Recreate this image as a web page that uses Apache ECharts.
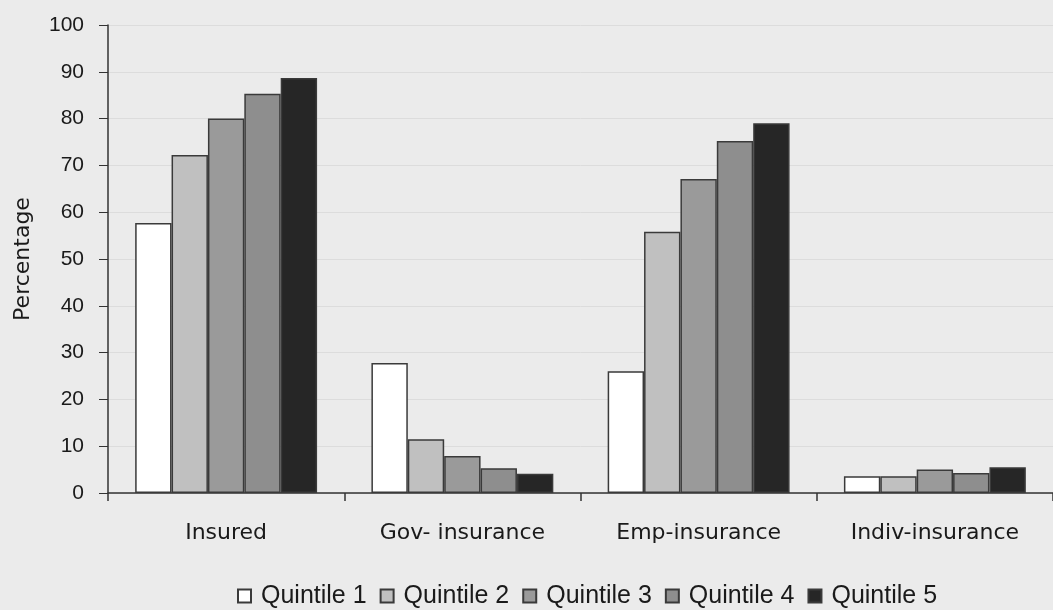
<!DOCTYPE html>
<html><head><meta charset="utf-8">
<script src="https://cdn.jsdelivr.net/npm/echarts@6/dist/echarts.min.js"></script>
<style>html,body{margin:0;padding:0;background:#ebebeb}#c{width:1053px;height:610px}</style>
</head><body><div id="c"></div>
<script>
var categories = ['Insured', 'Gov- insurance', 'Emp-insurance', 'Indiv-insurance'];
var seriesNames = ['Quintile 1', 'Quintile 2', 'Quintile 3', 'Quintile 4', 'Quintile 5'];
var q1 = [57.7, 27.8, 26.0, 3.6];
var q2 = [72.2, 11.5, 55.8, 3.6];
var q3 = [80.0, 7.9, 67.1, 5.0];
var q4 = [85.3, 5.3, 75.2, 4.3];
var q5 = [88.7, 4.1, 79.0, 5.5];
var yTicks = [0, 10, 20, 30, 40, 50, 60, 70, 80, 90, 100];
var colors = ['#ffffff', '#c0c0c0', '#9a9a9a', '#8e8e8e', '#262626'];
var values = [q1, q2, q3, q4, q5];

var chart = echarts.init(document.getElementById('c'), null, {renderer: 'canvas'});
var font = 'DejaVu Sans, Liberation Sans, sans-serif';
var numFont = 'Liberation Sans, Arial, sans-serif';
chart.setOption({
  backgroundColor: '#ebebeb',
  animation: false,
  textStyle: {fontFamily: font},
  grid: {left: 108, top: 25, right: 0, bottom: 117, containLabel: false},
  legend: {
    top: 578, left: 232,
    itemWidth: 13, itemHeight: 13, itemGap: 13,
    textStyle: {fontSize: 25, lineHeight: 26, color: '#1a1a1a', fontFamily: numFont, padding: [0, 0, 0, 5]},
    data: seriesNames.map(function(n){return {name: n, icon: 'rect'};})
  },
  xAxis: {
    type: 'category', data: categories,
    axisLine: {lineStyle: {color: '#333', width: 1.5}},
    axisTick: {show: true, length: 8, interval: 0, lineStyle: {color: '#333', width: 1.5}},
    axisLabel: {fontSize: 22, color: '#1a1a1a', margin: 29, fontFamily: font}
  },
  yAxis: {
    type: 'value', min: 0, max: 100, interval: 10,
    name: 'Percentage', nameLocation: 'middle', nameGap: 74, nameRotate: 90,
    nameTextStyle: {fontSize: 22, color: '#1a1a1a', fontFamily: font},
    axisLine: {show: true, lineStyle: {color: '#333', width: 1.5}},
    axisTick: {show: true, length: 9, lineStyle: {color: '#333'}},
    axisLabel: {fontSize: 21, color: '#1a1a1a', margin: 24, fontFamily: numFont,
      formatter: function(v){ return yTicks.indexOf(v) >= 0 ? String(v) : ''; }},
    splitLine: {show: true, lineStyle: {color: '#dcdcdc', width: 1}}
  },
  series: values.map(function(d, i){
    return {
      name: seriesNames[i], type: 'bar', data: d,
      barGap: '0%', barCategoryGap: '23%',
      itemStyle: {color: colors[i], borderColor: '#3a3a3a', borderWidth: 1.5}
    };
  })
});
</script></body></html>
